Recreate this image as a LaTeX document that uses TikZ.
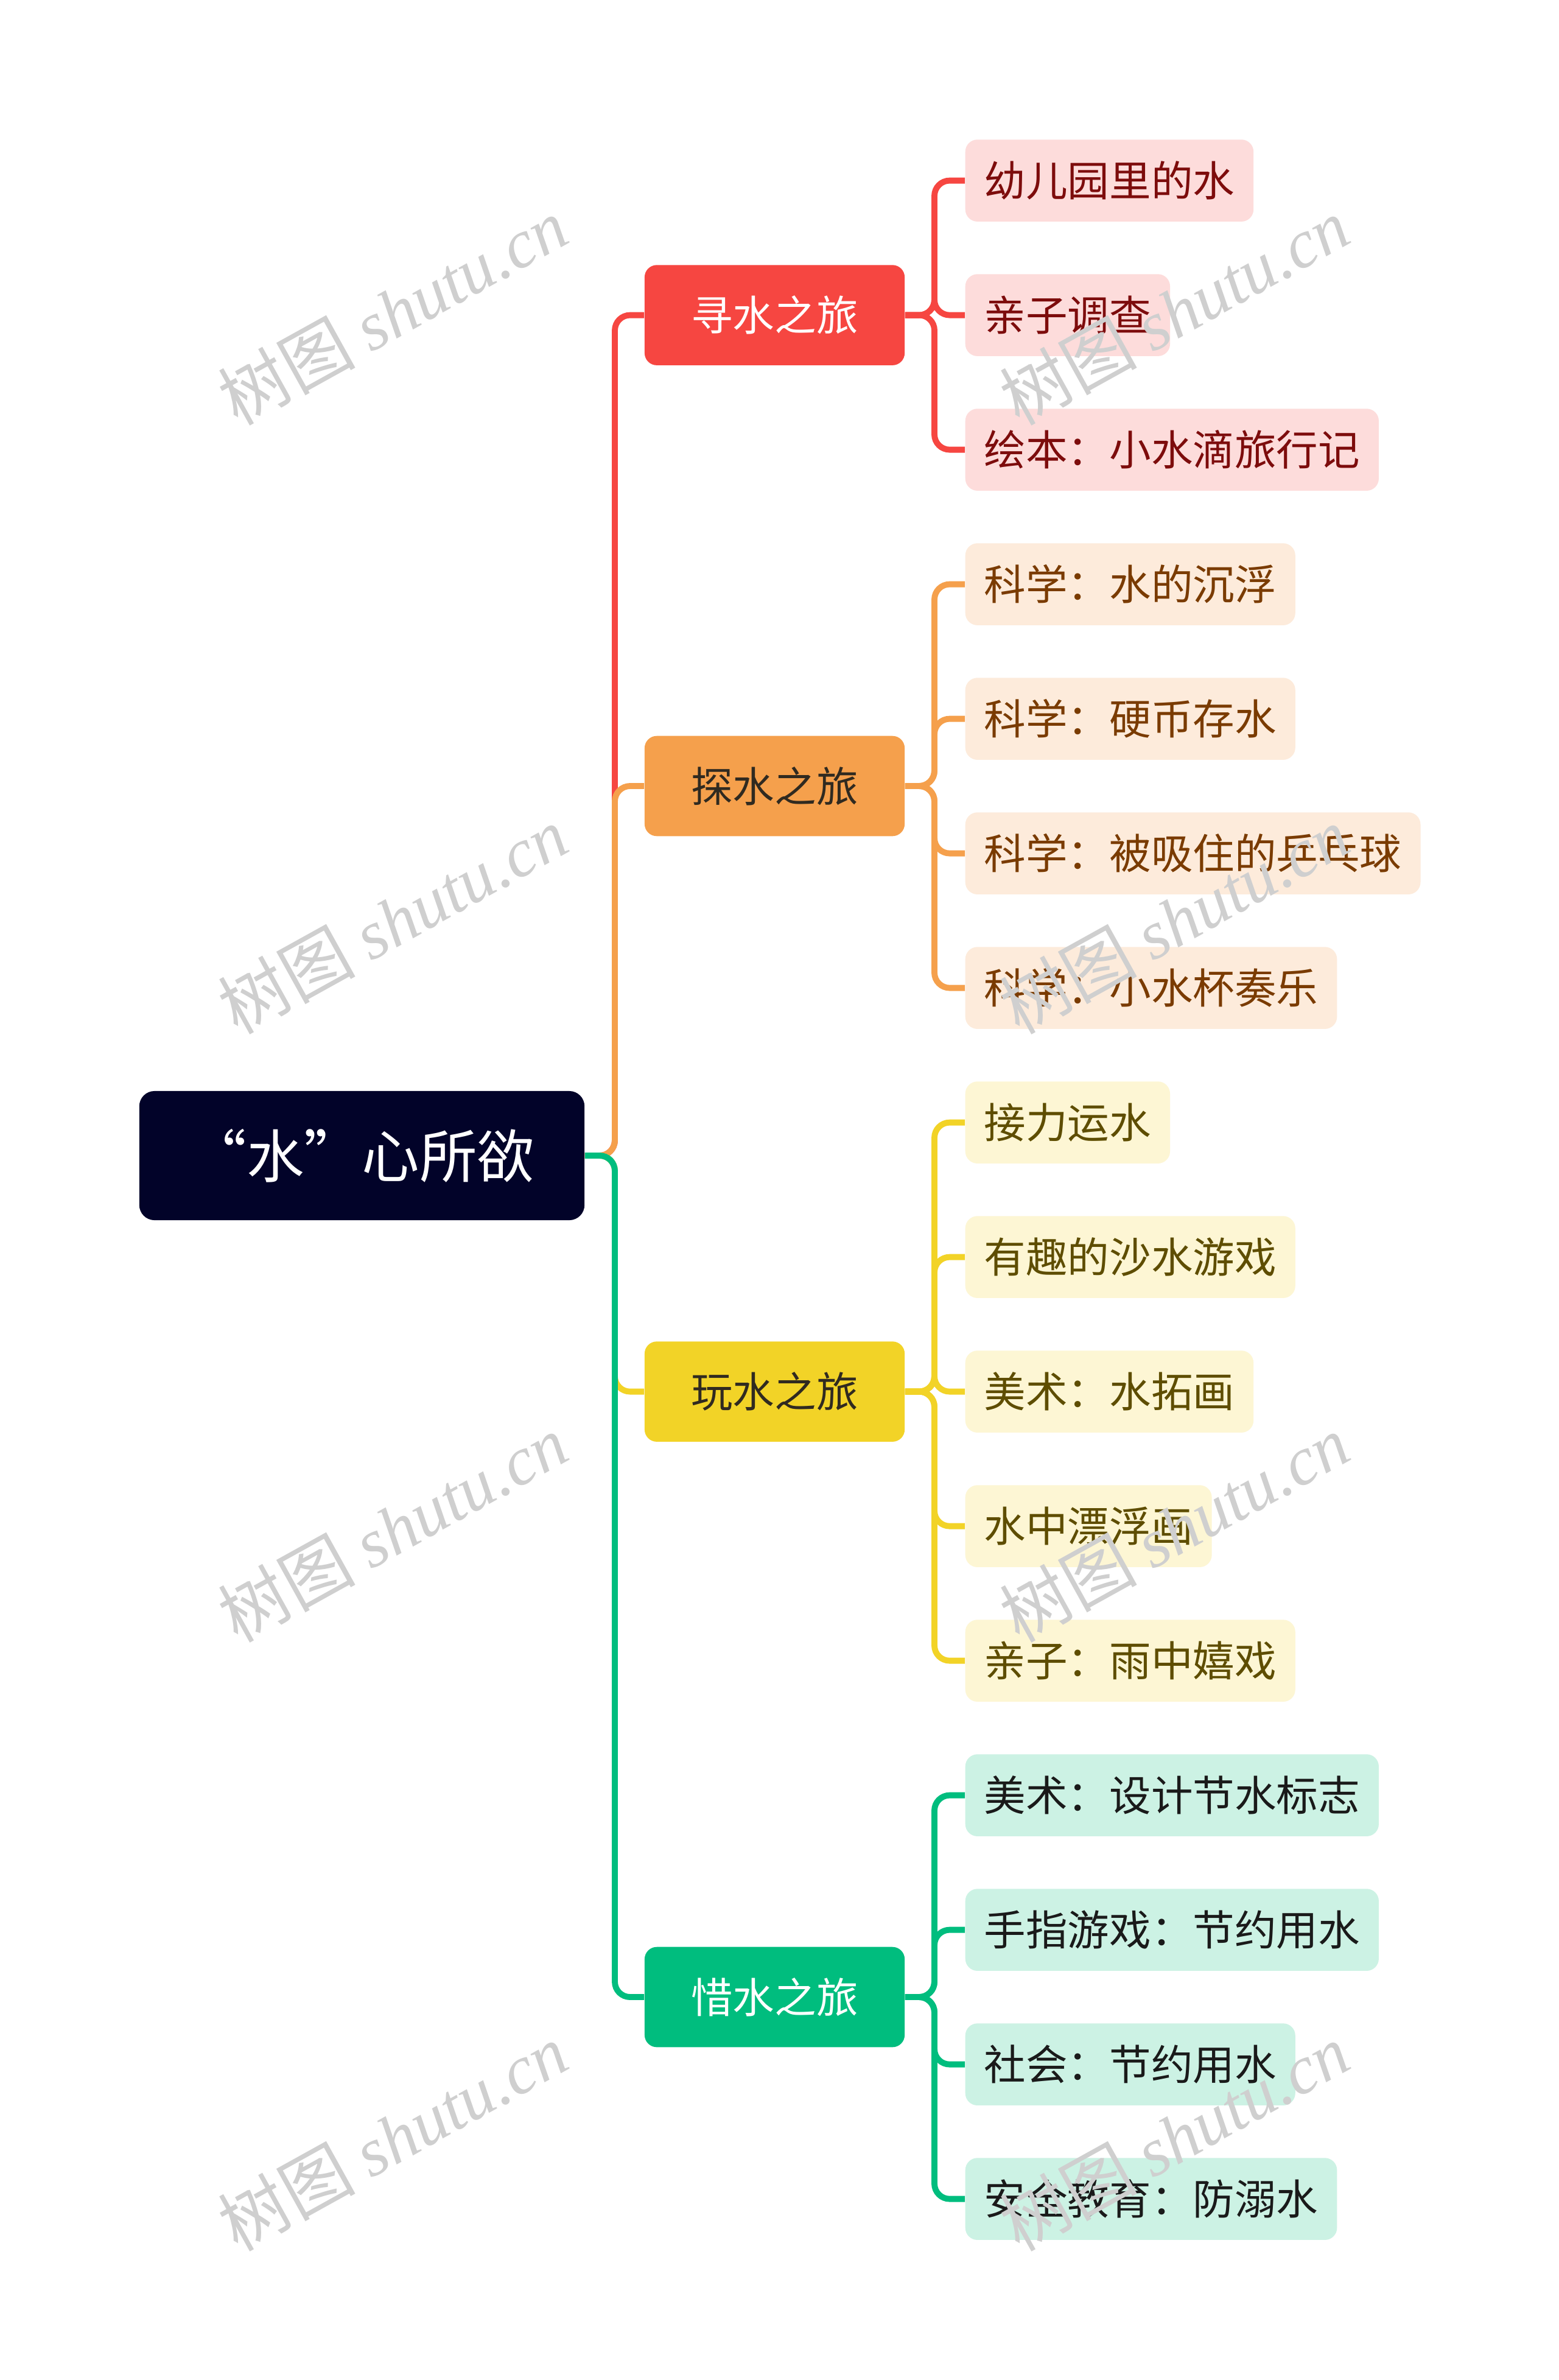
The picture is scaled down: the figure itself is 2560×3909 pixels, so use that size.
\documentclass[tikz,border=0pt]{standalone}
\usepackage{fontspec}
\setmainfont{Noto Sans CJK SC}
\newfontfamily\wmlat{Liberation Serif}
\usetikzlibrary{backgrounds}
\definecolor{rootc}{HTML}{020329}
\definecolor{cA}{HTML}{F64641}
\definecolor{cB}{HTML}{F5A04C}
\definecolor{cC}{HTML}{F2D327}
\definecolor{cD}{HTML}{00BD7E}
\definecolor{fA}{HTML}{FDDCDB}
\definecolor{fB}{HTML}{FDEBDB}
\definecolor{fC}{HTML}{FDF6D4}
\definecolor{fD}{HTML}{CCF2E4}
\definecolor{tA}{HTML}{7D0C0C}
\definecolor{tB}{HTML}{7A3B00}
\definecolor{tC}{HTML}{5E4D00}
\definecolor{tD}{HTML}{1A1A1A}
\definecolor{tdark}{HTML}{302A20}
\definecolor{wmc}{HTML}{CFCFCF}
\begin{document}
\begin{tikzpicture}[x=0.01cm,y=-0.01cm,
  rootbox/.style={fill=rootc, rounded corners=0.25cm, minimum width=7.31cm, minimum height=2.12cm, inner sep=0pt, text=white, font=\fontsize{26.9}{30}\selectfont},
  lonebox/.style={rounded corners=0.2cm, minimum width=4.27cm, minimum height=1.645cm, inner sep=0pt, font=\fontsize{19.5}{22}\selectfont},
  ltwobox/.style={rounded corners=0.2cm, minimum height=1.346cm, inner xsep=0.31cm, inner ysep=0pt, anchor=west, font=\fontsize{19.5}{22}\selectfont},
  conn/.style={line width=2.8pt, rounded corners=0.25cm},
  wm/.style={text=wmc, rotate=29, inner sep=0pt, font=\fontsize{32}{36}\selectfont}
]
\useasboundingbox (0,0) rectangle (2560,3909);
% root
\node[rootbox] (root) at (594.5,1898) {\addfontfeature{RawFeature=+fwid}“水”心所欲};
% level 1
\node[lonebox, fill=cA, text=white] (a) at (1272.5,517.6) {寻水之旅};
\node[lonebox, fill=cB, text=tdark] (b) at (1272.5,1291) {探水之旅};
\node[lonebox, fill=cC, text=tdark] (c) at (1272.5,2285.6) {玩水之旅};
\node[lonebox, fill=cD, text=white] (d) at (1272.5,3280) {惜水之旅};
% level 2 red
\node[ltwobox, fill=fA, text=tA] (a1) at (1585,296.6) {幼儿园里的水};
\node[ltwobox, fill=fA, text=tA] (a2) at (1585,517.6) {亲子调查};
\node[ltwobox, fill=fA, text=tA] (a3) at (1585,738.6) {绘本：小水滴旅行记};
% orange
\node[ltwobox, fill=fB, text=tB] (b1) at (1585,959.6) {科学：水的沉浮};
\node[ltwobox, fill=fB, text=tB] (b2) at (1585,1180.6) {科学：硬币存水};
\node[ltwobox, fill=fB, text=tB] (b3) at (1585,1401.6) {科学：被吸住的乒乓球};
\node[ltwobox, fill=fB, text=tB] (b4) at (1585,1622.6) {科学：小水杯奏乐};
% yellow
\node[ltwobox, fill=fC, text=tC] (c1) at (1585,1843.6) {接力运水};
\node[ltwobox, fill=fC, text=tC] (c2) at (1585,2064.6) {有趣的沙水游戏};
\node[ltwobox, fill=fC, text=tC] (c3) at (1585,2285.6) {美术：水拓画};
\node[ltwobox, fill=fC, text=tC] (c4) at (1585,2506.6) {水中漂浮画};
\node[ltwobox, fill=fC, text=tC] (c5) at (1585,2727.6) {亲子：雨中嬉戏};
% green
\node[ltwobox, fill=fD, text=tD] (d1) at (1585,2948.6) {美术：设计节水标志};
\node[ltwobox, fill=fD, text=tD] (d2) at (1585,3169.6) {手指游戏：节约用水};
\node[ltwobox, fill=fD, text=tD] (d3) at (1585,3390.6) {社会：节约用水};
\node[ltwobox, fill=fD, text=tD] (d4) at (1585,3611.6) {安全教育：防溺水};
% junctions
\coordinate (j) at (1010,1898);
\coordinate (ja) at (1535,517.6);
\coordinate (jb) at (1535,1291);
\coordinate (jc) at (1535,2285.6);
\coordinate (jd) at (1535,3280);
\begin{pgfonlayer}{background}
\fill[white] (0,0) rectangle (2560,3909);
\draw[conn, cA] (root.east) -- (j) |- (a.west);
\draw[conn, cB] (root.east) -- (j) |- (b.west);
\draw[conn, cC] (root.east) -- (j) |- (c.west);
\draw[conn, cD] (root.east) -- (j) |- (d.west);
\foreach \n in {a1,a2,a3} \draw[conn, cA] (a.east) -- (ja) |- (\n.west);
\foreach \n in {b1,b2,b3,b4} \draw[conn, cB] (b.east) -- (jb) |- (\n.west);
\foreach \n in {c1,c2,c3,c4,c5} \draw[conn, cC] (c.east) -- (jc) |- (\n.west);
\foreach \n in {d1,d2,d3,d4} \draw[conn, cD] (d.east) -- (jd) |- (\n.west);
\end{pgfonlayer}
% watermarks
\foreach \wy [count=\i] in {511,1511,2510,3510} {
  \node[wm] (wl\i) at (645,\wy) {树图 {\wmlat\itshape shutu.cn}};
  \node[wm] (wr\i) at (1929,\wy) {树图 {\wmlat\itshape shutu.cn}};
}
\end{tikzpicture}
\end{document}
